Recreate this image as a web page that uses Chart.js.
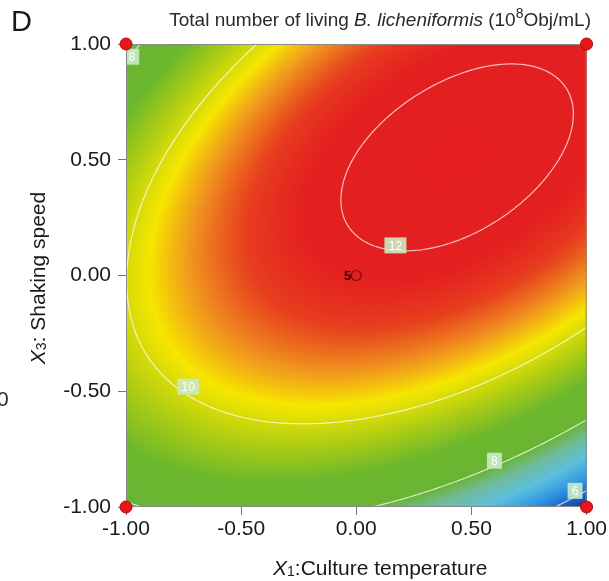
<!DOCTYPE html>
<html>
<head>
<meta charset="utf-8">
<script src="https://cdn.jsdelivr.net/npm/chart.js@4"></script>
<style>
  html, body { margin: 0; padding: 0; background: #fff; }
  #wrap { width: 609px; height: 581px; }
</style>
</head>
<body>
<div id="wrap"><canvas id="chart" width="609" height="581"></canvas></div>
<script>
// coded factor levels
const axisTicks = [-1, -0.5, 0, 0.5, 1]
const gridX = [-1, -0.5, 0, 0.5, 1]
const gridY = [-1, -0.5, 0, 0.5, 1]
// response (10^8 Obj/mL), one row per gridY value
const gridZ = [
    [7.90, 8.35, 8.09, 7.13, 5.48],
    [9.50, 10.35, 10.49, 9.94, 8.69],
    [9.99, 11.25, 11.80, 11.66, 10.81],
    [9.40, 11.06, 12.02, 12.27, 11.83],
    [7.70, 9.77, 11.13, 11.80, 11.76]
]
const contourLevels = [6, 8, 10, 12]

// contour labels
const labelText = ['12', '10', '8', '8', '6']
const labelX = [0.17, -0.73, 0.60, -0.975, 0.95]
const labelY = [0.13, -0.48, -0.80, 0.945, -0.93]

// design points
const cornerX = [-1, -1, 1, 1]
const cornerY = [-1, 1, 1, -1]
const centerX = [0]
const centerY = [0]
const centerRuns = ['5']

// colour ramp (value, r, g, b)
const colorStops = [
    [5.5, 26, 52, 140],
    [5.9, 28, 92, 192],
    [6.4, 48, 150, 226],
    [7.0, 92, 192, 222],
    [7.6, 112, 186, 150],
    [8.0, 106, 180, 52],
    [8.9, 108, 184, 44],
    [9.6, 172, 204, 20],
    [10.3, 246, 230, 0],
    [10.8, 240, 150, 30],
    [11.35, 231, 62, 30],
    [11.8, 228, 32, 32],
    [12.4, 228, 30, 32]
]

function extend(arr) {
    const m = arr.length
    return [3 * arr[0] - 3 * arr[1] + arr[2], ...arr, 3 * arr[m - 1] - 3 * arr[m - 2] + arr[m - 3]]
}
const rowsExt = gridZ.map(extend)
const colsExt = rowsExt[0].map((_, j) => extend(rowsExt.map(r => r[j])))
const E = colsExt[0].map((_, i) => colsExt.map(c => c[i])) // E[row][col]

function cr(p0, p1, p2, p3, t) {
    return 0.5 * (2 * p1 + (-p0 + p2) * t + (2 * p0 - 5 * p1 + 4 * p2 - p3) * t * t + (-p0 + 3 * p1 - 3 * p2 + p3) * t * t * t)
}

function surface(x, y) {
    const n = gridX.length
    let u = (x - gridX[0]) / (gridX[1] - gridX[0])
    let v = (y - gridY[0]) / (gridY[1] - gridY[0])
    u = Math.max(0, Math.min(n - 1, u))
    v = Math.max(0, Math.min(gridY.length - 1, v))
    const i = Math.min(Math.floor(u), n - 2)
    const j = Math.min(Math.floor(v), gridY.length - 2)
    const t = u - i, s = v - j
    const r = []
    for (let k = 0; k < 4; k++) {
        const row = E[j + k]
        r.push(cr(row[i], row[i + 1], row[i + 2], row[i + 3], t))
    }
    return cr(r[0], r[1], r[2], r[3], s)
}

function colorFor(z) {
    if (z <= colorStops[0][0]) return colorStops[0].slice(1)
    for (let k = 1; k < colorStops.length; k++) {
        const a = colorStops[k - 1], b = colorStops[k]
        if (z <= b[0]) {
            const f = (z - a[0]) / (b[0] - a[0])
            return [a[1] + (b[1] - a[1]) * f, a[2] + (b[2] - a[2]) * f, a[3] + (b[3] - a[3]) * f]
        }
    }
    return colorStops[colorStops.length - 1].slice(1)
}

const surfacePlugin = {
    id: 'surface',
    beforeDatasetsDraw(chart) {
        const { ctx, chartArea: a, scales: { x, y } } = chart
        const w = Math.round(a.right - a.left), h = Math.round(a.bottom - a.top)
        const off = document.createElement('canvas')
        off.width = w
        off.height = h
        const octx = off.getContext('2d')
        const img = octx.createImageData(w, h)
        for (let py = 0; py < h; py++) {
            const yv = y.getValueForPixel(a.top + py + 0.5)
            for (let px = 0; px < w; px++) {
                const xv = x.getValueForPixel(a.left + px + 0.5)
                const c = colorFor(surface(xv, yv))
                const idx = (py * w + px) * 4
                img.data[idx] = c[0]
                img.data[idx + 1] = c[1]
                img.data[idx + 2] = c[2]
                img.data[idx + 3] = 255
            }
        }
        octx.putImageData(img, 0, 0)
        ctx.save()
        ctx.drawImage(off, a.left, a.top)

        // contour lines (marching squares)
        ctx.beginPath()
        ctx.rect(a.left, a.top, a.right - a.left, a.bottom - a.top)
        ctx.clip()
        const N = 220
        const x0 = x.min, x1 = x.max, y0 = y.min, y1 = y.max
        const vals = []
        for (let j = 0; j <= N; j++) {
            const row = []
            for (let i = 0; i <= N; i++) row.push(surface(x0 + (x1 - x0) * i / N, y0 + (y1 - y0) * j / N))
            vals.push(row)
        }
        const gx = i => x.getPixelForValue(x0 + (x1 - x0) * i / N)
        const gy = j => y.getPixelForValue(y0 + (y1 - y0) * j / N)
        ctx.strokeStyle = 'rgba(255,255,255,0.72)'
        ctx.lineWidth = 1.2
        contourLevels.forEach(level => {
            ctx.beginPath()
            for (let j = 0; j < N; j++) {
                for (let i = 0; i < N; i++) {
                    const c = [[i, j], [i + 1, j], [i + 1, j + 1], [i, j + 1]]
                    const pts = []
                    for (let e = 0; e < 4; e++) {
                        const p = c[e], q = c[(e + 1) % 4]
                        const va = vals[p[1]][p[0]] - level, vb = vals[q[1]][q[0]] - level
                        if (va * vb < 0) {
                            const f = va / (va - vb)
                            pts.push([gx(p[0] + (q[0] - p[0]) * f), gy(p[1] + (q[1] - p[1]) * f)])
                        }
                    }
                    for (let k = 0; k + 1 < pts.length; k += 2) {
                        ctx.moveTo(pts[k][0], pts[k][1])
                        ctx.lineTo(pts[k + 1][0], pts[k + 1][1])
                    }
                }
            }
            ctx.stroke()
        })

        // contour labels
        ctx.font = '12px "Liberation Sans", Arial, sans-serif'
        ctx.textAlign = 'center'
        ctx.textBaseline = 'middle'
        labelText.forEach((t, k) => {
            const px = x.getPixelForValue(labelX[k]), py = y.getPixelForValue(labelY[k])
            const bw = t.length > 1 ? 22 : 15, bh = 16
            ctx.fillStyle = 'rgba(200,234,196,0.9)'
            ctx.fillRect(px - bw / 2, py - bh / 2, bw, bh)
            ctx.fillStyle = '#ffffff'
            ctx.fillText(t, px, py + 1)
        })
        ctx.restore()

        // frame
        ctx.save()
        ctx.strokeStyle = '#8a8a8a'
        ctx.lineWidth = 1
        ctx.strokeRect(a.left + 0.5, a.top + 0.5, a.right - a.left - 1, a.bottom - a.top - 1)
        ctx.restore()
    },
    afterDatasetsDraw(chart) {
        const { ctx, scales: { x, y } } = chart
        ctx.save()
        ctx.font = 'bold 13px "Liberation Sans", Arial, sans-serif'
        ctx.fillStyle = '#2a0808'
        ctx.textAlign = 'right'
        ctx.textBaseline = 'middle'
        centerRuns.forEach((t, k) => {
            ctx.fillText(t, x.getPixelForValue(centerX[k]) - 5, y.getPixelForValue(centerY[k]) + 1)
        })
        ctx.restore()
    },
    afterDraw(chart) {
        const ctx = chart.ctx
        const fam = '"Liberation Sans", Arial, sans-serif'
        ctx.save()
        ctx.fillStyle = '#1a1a1a'
        ctx.textBaseline = 'alphabetic'
        ctx.textAlign = 'left'

        // panel letter
        ctx.font = '29px ' + fam
        ctx.fillText('D', 11, 31)

        // title, right-aligned
        const parts = [
            ['Total number of living ', '19px ' + fam, 0],
            ['B. licheniformis', 'italic 19px ' + fam, 0],
            [' (10', '19px ' + fam, 0],
            ['8', '14px ' + fam, -8],
            ['Obj/mL)', '19px ' + fam, 0]
        ]
        let total = 0
        parts.forEach(p => { ctx.font = p[1]; total += ctx.measureText(p[0]).width })
        let cx = 591 - total
        ctx.fillStyle = '#2a2a2a'
        parts.forEach(p => {
            ctx.font = p[1]
            ctx.fillText(p[0], cx, 26 + p[2])
            cx += ctx.measureText(p[0]).width
        })

        // x axis title
        ctx.fillStyle = '#1a1a1a'
        let tx = 273
        const xParts = [['X', 'italic 21px ' + fam, 0], ['1', '14px ' + fam, 1], [':Culture temperature', '21px ' + fam, 0]]
        xParts.forEach(p => {
            ctx.font = p[1]
            ctx.fillText(p[0], tx, 575 + p[2])
            tx += ctx.measureText(p[0]).width
        })

        // y axis title
        const yParts = [['X', 'italic 21px ' + fam, 0], ['3', '14px ' + fam, 1], [': Shaking speed', '21px ' + fam, 0]]
        let yw = 0
        yParts.forEach(p => { ctx.font = p[1]; yw += ctx.measureText(p[0]).width })
        ctx.translate(45, 278)
        ctx.rotate(-Math.PI / 2)
        let ty = -yw / 2
        yParts.forEach(p => {
            ctx.font = p[1]
            ctx.fillText(p[0], ty, p[2])
            ty += ctx.measureText(p[0]).width
        })
        ctx.restore()

        // fragment of neighbouring panel
        ctx.save()
        ctx.font = '21px ' + fam
        ctx.fillStyle = '#2a2a2a'
        ctx.fillText('0', -3, 406)
        ctx.restore()
    }
}

const tickFont = { family: '"Liberation Sans", Arial, sans-serif', size: 21 }
const axisCommon = {
    type: 'linear',
    min: -1,
    max: 1,
    afterBuildTicks: s => { s.ticks = axisTicks.map(v => ({ value: v })) },
    ticks: { font: tickFont, color: '#1a1a1a', callback: v => Number(v).toFixed(2) },
    grid: { display: true, drawOnChartArea: false, drawTicks: true, tickLength: 8, color: '#777' },
    border: { display: false }
}

new Chart(document.getElementById('chart'), {
    type: 'scatter',
    data: {
        datasets: [{
            data: cornerX.map((v, i) => ({ x: v, y: cornerY[i] })),
            pointRadius: 6,
            backgroundColor: '#e8161b',
            borderColor: '#b00a0a',
            borderWidth: 1,
            clip: false
        }, {
            data: centerX.map((v, i) => ({ x: v, y: centerY[i] })),
            pointRadius: 5,
            backgroundColor: 'rgba(0,0,0,0)',
            borderColor: '#7a0c0c',
            borderWidth: 1.2,
            clip: false
        }]
    },
    options: {
        responsive: false,
        animation: false,
        devicePixelRatio: 1,
        layout: { autoPadding: false, padding: { left: 0, right: 22, top: 44, bottom: 0 } },
        plugins: { legend: { display: false }, tooltip: { enabled: false } },
        scales: {
            x: { ...axisCommon, ticks: { ...axisCommon.ticks, padding: 2, maxRotation: 0 }, afterFit: s => { s.height = 74 } },
            y: { ...axisCommon, ticks: { ...axisCommon.ticks, padding: 7 }, afterFit: s => { s.width = 126 } }
        }
    },
    plugins: [surfacePlugin]
})
</script>
</body>
</html>
